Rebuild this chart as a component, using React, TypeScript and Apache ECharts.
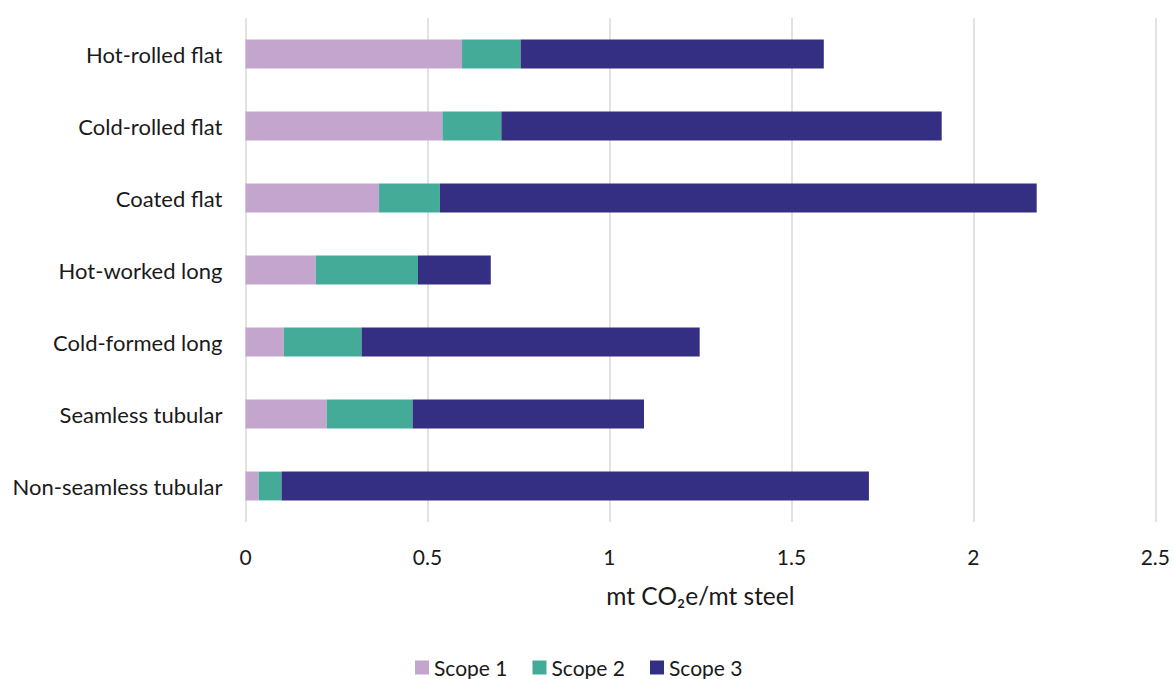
import React, { useEffect, useRef } from "react";
import * as echarts from "echarts";

const categories = [
  "Hot-rolled flat",
  "Cold-rolled flat",
  "Coated flat",
  "Hot-worked long",
  "Cold-formed long",
  "Seamless tubular",
  "Non-seamless tubular",
];
const scope1 = [0.595, 0.541, 0.367, 0.193, 0.105, 0.223, 0.036];
const scope2 = [0.161, 0.162, 0.167, 0.281, 0.214, 0.236, 0.063];
const scope3 = [0.833, 1.21, 1.64, 0.2, 0.929, 0.636, 1.614];
const seriesNames = ["Scope 1", "Scope 2", "Scope 3"];
const colors = ["#c3a5ce", "#45ab99", "#342f83"];
const font = "Lato, 'Open Sans', sans-serif";

export default function App() {
  const ref = useRef<HTMLDivElement>(null);
  useEffect(() => {
    if (!ref.current) return;
    const chart = echarts.init(ref.current, null, { renderer: "svg" });
    const data = [scope1, scope2, scope3];
    chart.setOption({
      animation: false,
      textStyle: { fontFamily: font },
      grid: { left: 245.5, right: 17, top: 18, bottom: 157, containLabel: false },
      legend: {
        top: 652,
        left: 410,
        itemWidth: 14,
        itemHeight: 14,
        itemGap: 25,
        icon: "rect",
        textStyle: { fontSize: 21, color: "#1a1a1a", fontFamily: font },
        data: seriesNames,
      },
      xAxis: {
        type: "value",
        min: 0,
        max: 2.5,
        interval: 0.5,
        name: "mt CO₂e/mt steel",
        nameLocation: "middle",
        nameGap: 61,
        nameTextStyle: { fontSize: 24.5, color: "#1a1a1a", fontFamily: font },
        axisLine: { show: false },
        axisTick: { show: false },
        axisLabel: { fontSize: 21, color: "#1a1a1a", margin: 24, fontFamily: font },
        splitLine: { lineStyle: { color: "#d9d9d9", width: 1.5 } },
      },
      yAxis: {
        type: "category",
        inverse: true,
        data: categories,
        axisLine: { show: false },
        axisTick: { show: false },
        axisLabel: { fontSize: 22, color: "#1a1a1a", margin: 23, fontFamily: font },
      },
      series: seriesNames.map((n, i) => ({
        name: n,
        type: "bar",
        stack: "total",
        barWidth: "40%",
        itemStyle: { color: colors[i] },
        data: data[i],
      })),
    });
    return () => chart.dispose();
  }, []);
  return (
    <div
      ref={ref}
      style={{ position: "fixed", left: 0, top: 0, width: 1173, height: 679, background: "#fff" }}
    />
  );
}
